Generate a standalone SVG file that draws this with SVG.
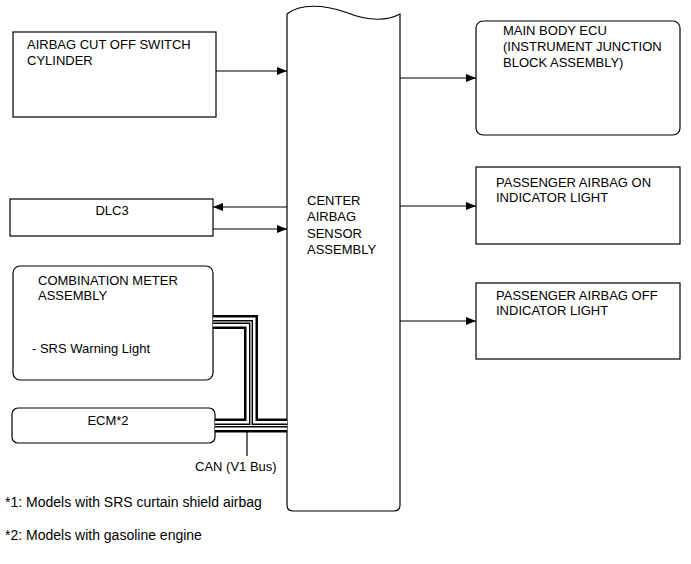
<svg xmlns="http://www.w3.org/2000/svg" width="691" height="564" viewBox="0 0 691 564">
<style>
.box{fill:#fff;stroke:#000;stroke-width:1.2}
.t{font-family:"Liberation Sans",Arial,sans-serif;font-size:13px;fill:#000}
.fn{font-size:14px}
.ln{stroke:#000;stroke-width:1.2;fill:none}
</style>
<defs>
<marker id="ah" viewBox="0 0 10 8" refX="10" refY="4" markerWidth="10" markerHeight="8" markerUnits="userSpaceOnUse" orient="auto">
<path d="M0,0 L10,4 L0,8 Z" fill="#000"/>
</marker>
</defs>
<rect width="691" height="564" fill="#fff"/>

<g id="center">
<path class="box" d="M287,14 C300,3 325,5 345,12 C365,20 385,22 400,14 V505 Q400,511 394,511 H293 Q287,511 287,505 Z"/>
<text class="t" x="307" y="205">CENTER</text>
<text class="t" x="307" y="221">AIRBAG</text>
<text class="t" x="307" y="238">SENSOR</text>
<text class="t" x="307" y="254">ASSEMBLY</text>
</g>

<g id="cutoff">
<rect class="box" x="13" y="32" width="203" height="85"/>
<text class="t" x="27" y="49">AIRBAG CUT OFF SWITCH</text>
<text class="t" x="27" y="65">CYLINDER</text>
</g>

<g id="dlc3">
<rect class="box" x="10" y="199" width="203" height="37"/>
<text class="t" x="112" y="215" text-anchor="middle">DLC3</text>
</g>

<g id="combmeter">
<rect class="box" x="13" y="266" width="200" height="114" rx="7"/>
<text class="t" x="38" y="285">COMBINATION METER</text>
<text class="t" x="38" y="300">ASSEMBLY</text>
<text class="t" x="32" y="353">- SRS Warning Light</text>
</g>

<g id="ecm">
<rect class="box" x="12" y="408" width="203" height="35" rx="6"/>
<text class="t" x="108" y="425" text-anchor="middle">ECM*2</text>
</g>

<g id="mainbody">
<rect class="box" x="476" y="21" width="204" height="114" rx="7"/>
<text class="t" x="503" y="35">MAIN BODY ECU</text>
<text class="t" x="503" y="51">(INSTRUMENT JUNCTION</text>
<text class="t" x="503" y="67">BLOCK ASSEMBLY)</text>
</g>

<g id="paon">
<rect class="box" x="476" y="167" width="204" height="77"/>
<text class="t" x="496" y="187">PASSENGER AIRBAG ON</text>
<text class="t" x="496" y="202">INDICATOR LIGHT</text>
</g>

<g id="paoff">
<rect class="box" x="476" y="283" width="204" height="76"/>
<text class="t" x="496" y="300">PASSENGER AIRBAG OFF</text>
<text class="t" x="496" y="315">INDICATOR LIGHT</text>
</g>

<g id="connectors">
<line class="ln" x1="216" y1="71" x2="287" y2="71" marker-end="url(#ah)"/>
<line class="ln" x1="287" y1="207" x2="213" y2="207" marker-end="url(#ah)"/>
<line class="ln" x1="213" y1="229" x2="287" y2="229" marker-end="url(#ah)"/>
<line class="ln" x1="400" y1="78" x2="476" y2="78" marker-end="url(#ah)"/>
<line class="ln" x1="400" y1="206" x2="476" y2="206" marker-end="url(#ah)"/>
<line class="ln" x1="400" y1="321" x2="476" y2="321" marker-end="url(#ah)"/>
<g id="can" fill="none" stroke-linejoin="miter" stroke-linecap="butt">
<path d="M213,322 H251 V425.5 M215,425.5 H287" stroke="#000" stroke-width="14"/>
<path d="M213,322 H251 V425.5 M215,425.5 H287" stroke="#fff" stroke-width="9"/>
<path d="M213,322 H251 V425.5 M215,425.5 H287" stroke="#000" stroke-width="4"/>
<path d="M213,322 H251 V425.5 M215,425.5 H287" stroke="#fff" stroke-width="1.2"/>
</g>
<line class="ln" x1="247" y1="432" x2="247" y2="456"/>
</g>

<g id="labels">
<text class="t" x="195" y="471">CAN (V1 Bus)</text>
<text class="t fn" x="5" y="507">*1: Models with SRS curtain shield airbag</text>
<text class="t fn" x="5" y="540">*2: Models with gasoline engine</text>
</g>
</svg>
